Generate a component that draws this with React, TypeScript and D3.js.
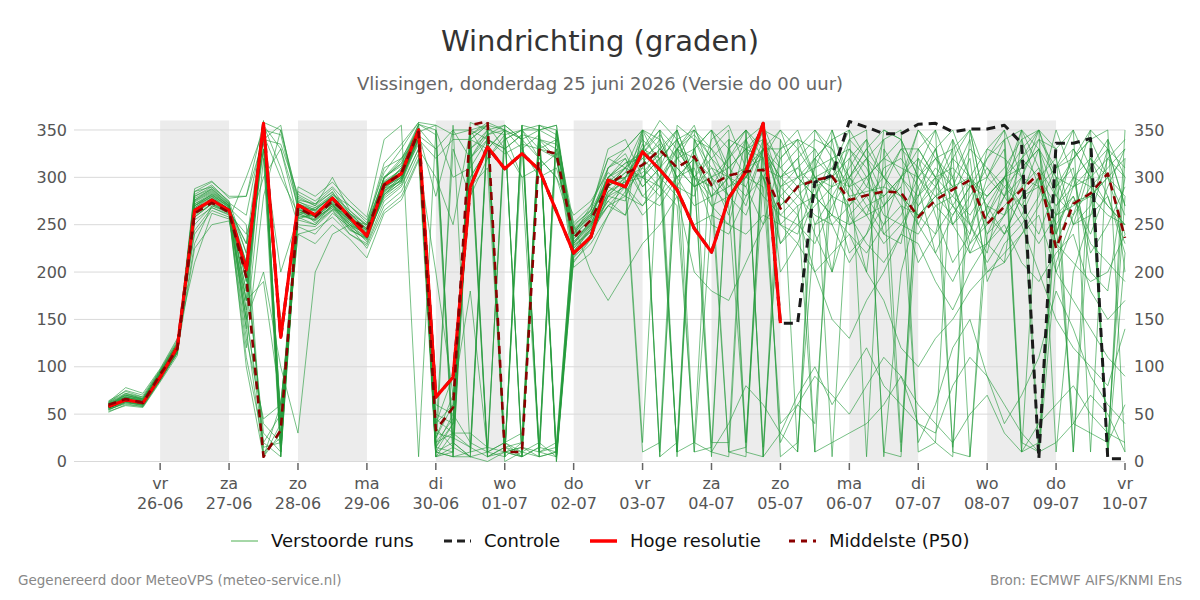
import * as d3 from "d3";

// 6-hourly ensemble steps starting Thursday 25-06 06:00 UTC
const runStart = Date.UTC(2026, 5, 25, 6);
const stepHours = 6;

const hogeResolutie = [
  58, 65, 62, 89, 121, 265, 276, 265, 202, 357, 131, 271, 260, 278, 258, 238,
  292, 304, 350, 68, 89, 290, 332, 309, 325, 308, 264, 220, 237, 297, 290, 327,
  308, 287, 246, 221, 278, 306, 357, 146,
];

const controle = [
  58, 65, 62, 89, 121, 265, 276, 265, 202, 357, 131, 271, 260, 278, 258, 238,
  292, 304, 350, 68, 89, 290, 332, 309, 325, 308, 264, 220, 237, 297, 290, 327,
  308, 287, 246, 221, 278, 306, 357, 146, 146, 295, 302, 359, 353, 346, 346, 356,
  357, 348, 351, 351, 355, 336, 3, 336, 336, 341, 3, 3,
];

const middelste = [
  60, 66, 62, 92, 119, 262, 273, 263, 195, 5, 33, 268, 258, 275, 258, 244,
  292, 304, 348, 33, 57, 355, 359, 10, 10, 329, 325, 236, 255, 292, 304, 313,
  329, 310, 322, 292, 302, 306, 308, 267, 290, 297, 301, 276, 281, 285, 284, 258,
  276, 287, 297, 251, 269, 287, 304, 225, 272, 283, 304, 236,
];

// perturbed members (wind direction in degrees)
const verstoord = [
  [60,68,64,93,122,270,280,268,180,350,40,262,255,270,250,240,290,300,345,20,45,340,355,15,5,335,320,230,250,295,300,320,335,300,320,280,300,310,350,270,290,300,310,280,285,290,280,260,280,290,300,250,270,290,310,230,275,280,300,240],
  [55,62,60,88,118,285,290,275,220,10,25,275,265,280,262,245,300,315,355,5,30,358,350,5,355,10,15,215,235,280,275,345,5,330,355,300,260,340,15,290,310,330,5,300,320,240,260,300,330,270,250,220,300,350,10,260,330,300,20,280],
  [58,72,66,95,125,260,272,262,150,355,310,250,248,265,240,230,275,290,330,40,60,300,330,350,340,320,300,240,260,300,320,290,310,350,300,5,340,330,300,250,240,290,200,320,340,300,270,210,240,320,350,260,240,280,330,200,250,310,340,200],
  [62,75,70,97,128,240,265,258,110,20,50,280,270,285,255,250,310,320,340,10,20,5,345,350,10,5,350,225,245,270,290,10,20,355,340,330,290,300,350,5,20,250,280,270,200,350,340,250,290,330,5,240,260,300,350,330,10,280,300,260],
  [52,60,58,85,115,275,285,270,200,340,355,265,262,275,258,238,280,295,350,50,40,330,5,15,20,340,330,250,265,330,340,300,280,320,330,350,310,290,250,320,340,10,350,290,260,270,300,280,300,15,300,200,210,340,290,240,290,350,5,220],
  [57,64,62,90,120,230,270,262,240,300,330,270,258,268,250,232,285,300,335,30,330,280,320,345,300,310,325,205,220,260,300,330,350,5,320,290,270,20,330,280,300,320,340,250,260,310,320,290,220,260,290,300,340,10,300,250,280,240,290,330],
  [61,70,66,92,120,268,278,266,160,15,20,255,250,272,245,235,295,305,352,15,10,350,10,5,350,355,0,230,255,290,280,315,340,300,10,260,250,320,355,200,230,280,320,330,300,260,250,240,270,280,320,190,230,250,280,350,300,220,250,290],
  [56,66,61,89,117,285,295,280,280,358,5,285,275,290,270,255,305,330,358,355,5,320,350,20,10,355,350,210,235,310,330,350,330,310,290,300,320,340,300,330,350,300,280,220,240,290,330,310,350,300,220,230,260,320,350,10,200,260,320,340],
  [54,63,59,87,116,255,268,260,130,45,60,240,245,258,240,228,270,285,325,60,50,290,310,5,330,345,5,240,270,320,310,280,300,330,350,320,280,260,310,300,320,250,260,340,350,5,200,270,300,340,250,280,300,270,240,290,310,200,180,300],
  [63,78,72,98,130,210,262,256,300,350,40,260,268,282,265,248,290,310,345,25,70,345,358,350,5,330,340,220,240,285,300,20,350,290,280,340,355,310,280,260,280,300,290,330,310,270,290,350,330,250,270,320,350,300,5,210,260,320,280,220],
  [59,66,63,91,119,272,283,270,190,330,25,290,280,295,275,258,340,355,5,350,300,310,340,330,300,5,10,235,250,275,260,300,320,10,330,280,300,290,340,230,260,310,350,300,270,240,230,320,260,210,240,300,330,10,20,300,250,270,330,270],
  [60,68,65,94,123,250,270,264,100,5,60,248,240,262,248,225,265,280,320,5,355,10,15,340,350,320,300,260,275,305,290,270,290,340,350,10,5,330,320,20,60,40,300,340,320,280,10,280,330,350,300,240,280,320,300,250,40,30,20,60],
  [58,64,61,90,121,280,288,272,170,350,345,272,264,276,256,242,292,302,340,320,340,340,330,350,330,300,310,245,260,300,310,325,350,330,300,270,280,300,330,290,300,310,320,290,300,320,310,300,320,330,350,260,290,310,330,280,320,350,330,310],
  [64,74,68,96,126,262,275,264,150,200,100,30,200,240,250,240,300,320,350,40,90,300,330,5,20,350,15,250,200,170,200,230,250,280,200,180,170,210,250,280,260,200,150,130,170,200,240,230,190,160,200,230,250,210,190,220,240,180,150,170],
  [55,61,58,86,114,278,287,271,210,330,20,260,255,270,255,240,282,298,348,10,5,5,0,10,355,350,355,225,248,290,305,340,320,10,20,350,330,300,290,40,60,90,70,50,80,110,90,60,40,20,50,70,30,10,40,60,80,50,30,20],
  [61,69,66,95,124,244,268,261,120,280,350,276,272,288,262,246,296,308,356,350,20,320,345,355,340,350,355,238,258,310,325,290,310,330,345,320,300,340,355,310,290,240,200,260,280,300,330,330,300,250,220,260,300,330,350,300,10,340,300,320],
  [57,65,62,90,119,266,277,267,230,360,15,268,252,266,244,236,288,296,342,20,30,15,5,355,340,10,5,212,230,260,285,310,330,350,10,15,330,350,5,300,320,340,330,280,260,230,250,280,310,290,250,210,240,280,300,320,250,260,280,230],
  [53,59,57,84,112,270,282,268,250,5,30,258,260,274,252,238,278,292,330,300,250,350,355,10,5,15,350,232,250,280,290,260,280,300,320,270,250,240,260,250,230,200,220,240,200,170,120,100,130,150,180,200,220,240,260,200,170,140,110,90],
  [62,71,67,93,122,288,296,278,280,340,335,282,272,284,262,250,300,312,352,330,5,330,350,0,10,345,5,228,242,270,260,350,5,20,340,300,310,330,350,340,10,320,300,270,290,340,350,10,20,340,300,280,300,320,340,330,350,310,10,320],
  [59,67,64,92,121,258,272,265,140,320,5,264,256,270,248,236,286,300,345,5,15,340,5,10,15,5,330,242,265,300,315,320,300,280,250,260,330,350,320,350,300,280,260,240,220,250,300,330,350,10,5,270,240,260,300,230,210,190,200,240],
  [56,63,60,88,117,282,292,274,170,350,40,270,262,278,258,244,294,306,348,355,345,350,320,340,350,330,320,218,238,290,310,350,340,300,270,280,10,5,340,320,340,330,300,290,320,340,20,310,290,270,240,330,350,20,10,270,300,290,270,250],
  [60,67,63,91,120,270,279,266,200,30,10,266,258,272,252,240,284,298,344,15,50,20,10,20,5,340,335,246,262,295,300,330,360,340,300,320,340,10,5,30,10,350,330,300,280,250,270,260,280,300,340,230,210,240,270,310,320,340,350,10],
  [57,66,62,90,118,276,286,270,160,355,10,272,266,280,260,242,290,300,340,10,40,350,5,15,10,20,5,222,244,285,295,300,290,270,20,10,40,80,60,30,70,100,60,90,120,80,60,40,30,80,110,90,60,30,10,20,40,70,50,10],
  [58,65,61,89,120,264,276,265,210,345,300,262,254,268,246,234,282,294,338,30,25,15,355,330,345,15,10,236,252,282,296,305,325,350,300,20,20,350,330,330,340,300,250,210,240,270,290,20,60,120,150,90,40,70,110,180,140,90,60,40],
  [59,70,65,94,123,272,281,269,190,358,350,278,270,300,265,250,298,318,356,345,20,5,350,345,350,350,5,228,245,275,292,335,300,10,340,310,280,300,330,310,330,350,320,260,230,210,240,290,320,300,230,250,280,350,330,240,300,320,300,280],
  [56,64,60,88,116,225,250,254,170,190,60,240,230,250,235,215,262,276,318,200,70,180,10,20,30,355,345,252,270,310,320,280,270,300,310,250,240,280,300,260,250,230,270,300,330,300,280,250,220,190,230,270,300,260,230,260,280,230,210,190],
  [60,66,63,91,120,280,290,273,260,350,10,270,265,282,270,252,315,335,358,5,10,345,355,5,355,5,10,244,258,300,290,350,10,330,300,290,320,350,5,340,300,280,310,350,5,330,300,350,320,290,330,310,280,300,340,310,350,10,340,300],
  [61,68,65,94,124,268,280,266,230,330,200,258,250,266,262,244,288,304,346,280,350,320,340,330,345,340,320,232,252,290,305,300,330,310,290,310,300,280,330,300,310,290,300,320,290,280,300,320,300,310,290,280,300,310,330,300,290,300,320,300],
  [57,63,60,87,115,274,284,270,140,5,40,266,260,276,254,238,286,296,340,25,60,330,345,10,5,355,0,216,240,280,300,310,290,330,320,300,10,15,350,290,270,10,20,30,40,60,90,40,20,5,350,300,280,250,200,150,120,100,80,140],
  [63,72,68,96,126,258,272,263,210,20,5,262,266,280,258,240,292,310,350,10,5,10,350,355,5,15,350,238,256,300,315,325,345,320,350,330,310,330,340,270,290,320,340,350,320,300,280,260,240,270,300,330,320,300,290,310,330,300,270,250],
  [58,66,62,90,119,266,276,265,180,345,45,274,268,278,258,246,300,314,352,35,15,5,10,350,10,350,340,222,246,290,310,300,320,340,300,330,350,20,300,230,250,270,290,300,330,350,340,300,280,260,290,320,340,350,310,280,260,290,310,330],
  [55,62,59,86,115,270,282,269,220,355,330,256,262,272,250,236,282,298,344,330,350,350,340,325,335,330,325,230,248,270,280,270,300,320,300,280,290,310,320,250,270,280,260,250,270,280,300,270,290,320,300,270,260,280,290,260,270,280,260,250],
  [62,70,66,93,122,276,288,272,150,40,20,268,258,274,256,244,294,308,350,45,30,30,15,10,15,10,20,248,266,320,330,350,310,290,330,350,300,270,330,350,330,300,280,310,340,10,5,330,300,280,260,290,310,340,350,290,320,340,10,350],
  [59,68,64,92,121,262,274,263,200,350,20,264,258,272,254,240,288,302,348,15,40,340,355,350,340,10,350,240,262,295,310,330,320,340,290,300,280,310,330,300,280,260,250,270,300,320,340,300,270,250,280,310,290,270,300,270,290,310,330,270],
];

const yTicks = [0, 50, 100, 150, 200, 250, 300, 350];
const weekdays = ["zo", "ma", "di", "wo", "do", "vr", "za"];

const legendItems = [
  { label: "Verstoorde runs", color: "#4caf50", width: 1, dash: "" },
  { label: "Controle", color: "#222", width: 3, dash: "8,5" },
  { label: "Hoge resolutie", color: "#ff0000", width: 3.5, dash: "" },
  { label: "Middelste (P50)", color: "#8b0000", width: 3, dash: "6,6" },
];

const W = 1200;
const H = 600;
const left = 74;
const right = 1125;
const top = 120.5;
const bottom = 461.5;
const font = "DejaVu Sans, sans-serif";

const timeOf = (i: number) => new Date(runStart + i * stepHours * 3600 * 1000);

export default function App() {
  const x = d3
    .scaleUtc()
    .domain([new Date(Date.UTC(2026, 5, 24, 18)), new Date(Date.UTC(2026, 6, 10))])
    .range([left, right]);
  const y = d3.scaleLinear().domain([0, 360]).range([bottom, top]);

  const line = d3
    .line<number>()
    .x((_, i) => x(timeOf(i)))
    .y((d) => y(d));

  const days = d3.utcDay.range(new Date(Date.UTC(2026, 5, 26)), new Date(Date.UTC(2026, 6, 10, 1)));
  const bands = days.filter((_, i) => i % 2 === 0 && i < days.length - 1);
  const fmt = d3.utcFormat("%d-%m");

  return (
    <svg
      width={W}
      height={H}
      style={{ position: "absolute", left: 0, top: 0, background: "#fff" }}
      fontFamily={font}
    >
      <text x={600} y={51} textAnchor="middle" fontSize={29} fill="#333">
        Windrichting (graden)
      </text>
      <text x={600} y={90} textAnchor="middle" fontSize={18} fill="#666">
        Vlissingen, donderdag 25 juni 2026 (Versie do 00 uur)
      </text>

      {/* alternating day shading */}
      {bands.map((d) => (
        <rect
          key={+d}
          x={x(d)}
          y={top}
          width={x(d3.utcDay.offset(d, 1)) - x(d)}
          height={bottom - top}
          fill="#ececec"
        />
      ))}

      {yTicks.map((t) => (
        <g key={t}>
          <line x1={left} x2={right} y1={y(t)} y2={y(t)} stroke="#d9d9d9" strokeWidth={1} />
          <text x={67} y={y(t)} dy="0.35em" textAnchor="end" fontSize={16} fill="#555">
            {t}
          </text>
          <text x={1134} y={y(t)} dy="0.35em" textAnchor="start" fontSize={16} fill="#555">
            {t}
          </text>
        </g>
      ))}

      {days.map((d) => (
        <g key={+d} transform={`translate(${x(d)},0)`}>
          <line y1={463} y2={470} stroke="#666" strokeWidth={1.5} />
          <text y={489} textAnchor="middle" fontSize={16} fill="#555">
            {weekdays[d.getUTCDay()]}
          </text>
          <text y={509} textAnchor="middle" fontSize={16} fill="#555">
            {fmt(d)}
          </text>
        </g>
      ))}

      <g fill="none" strokeLinejoin="round">
        {verstoord.map((m, k) => (
          <path key={k} d={line(m) ?? ""} stroke="#259b3c" strokeOpacity={0.62} strokeWidth={1} />
        ))}
        <path d={line(controle) ?? ""} stroke="#1a1a1a" strokeWidth={3} strokeDasharray="9,6" />
        <path d={line(hogeResolutie) ?? ""} stroke="#ff0000" strokeWidth={3.2} />
        <path d={line(middelste) ?? ""} stroke="#8b0000" strokeWidth={2.6} strokeDasharray="8,6" />
      </g>

      {/* legend */}
      {legendItems.map((it, i) => {
        const xs = [231, 444, 590, 789][i];
        return (
          <g key={it.label} transform={`translate(${xs},541)`}>
            <line x1={0} x2={27} stroke={it.color} strokeWidth={it.width} strokeDasharray={it.dash} />
            <text x={40} dy="0.35em" fontSize={18} fill="#111">
              {it.label}
            </text>
          </g>
        );
      })}

      <text x={18} y={585} fontSize={13.5} fill="#888">
        Gegenereerd door MeteoVPS (meteo-service.nl)
      </text>
      <text x={1182} y={585} fontSize={13.5} fill="#888" textAnchor="end">
        Bron: ECMWF AIFS/KNMI Ens
      </text>
    </svg>
  );
}
